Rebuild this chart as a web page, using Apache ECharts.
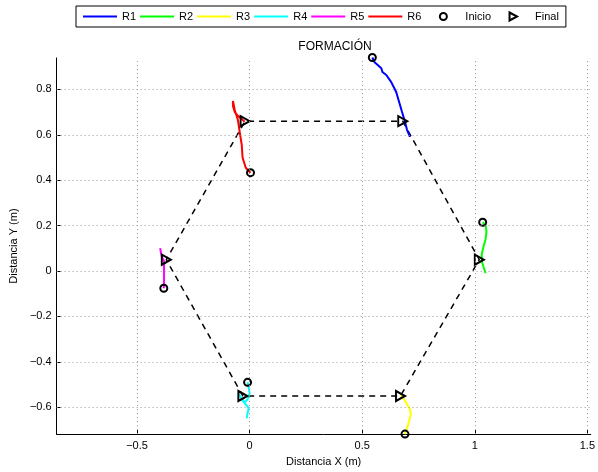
<!DOCTYPE html>
<html><head><meta charset="utf-8">
<script src="https://cdn.jsdelivr.net/npm/echarts@6/dist/echarts.min.js"></script>
<style>html,body{margin:0;padding:0;background:#fff}#c{width:598px;height:472px}</style>
</head><body><div id="c"></div>
<script>
const xTicks = [-0.5, 0, 0.5, 1, 1.5];
const yTicks = [-0.6, -0.4, -0.2, 0, 0.2, 0.4, 0.6, 0.8];
const robotNames = ['R1', 'R2', 'R3', 'R4', 'R5', 'R6'];
const robotColors = ['#0000ff', '#00ff00', '#ffff00', '#00ffff', '#ff00ff', '#ff0000'];

const r1 = [[0.545,0.940],[0.555,0.919],[0.585,0.893],[0.590,0.876],[0.607,0.863],[0.629,0.832],[0.651,0.788],[0.664,0.744],[0.677,0.700],[0.690,0.657],[0.699,0.622],[0.712,0.591]];
const r2 = [[1.035,0.215],[1.048,0.201],[1.052,0.175],[1.048,0.140],[1.039,0.109],[1.031,0.074],[1.031,0.044],[1.039,0.018],[1.048,-0.009]];
const r3 = [[0.690,-0.718],[0.699,-0.692],[0.707,-0.665],[0.716,-0.630],[0.712,-0.609],[0.699,-0.587],[0.686,-0.565],[0.672,-0.547]];
const r4 = [[-0.009,-0.490],[-0.004,-0.512],[0.000,-0.539],[-0.009,-0.565],[-0.022,-0.578],[-0.039,-0.556],[-0.048,-0.539],[-0.035,-0.565],[-0.017,-0.587],[-0.004,-0.604],[-0.009,-0.626],[-0.013,-0.648]];
const r5 = [[-0.381,-0.076],[-0.380,-0.044],[-0.380,0.000],[-0.380,0.044],[-0.389,0.061],[-0.395,0.088],[-0.397,0.101]];
const r6 = [[0.004,0.433],[-0.017,0.455],[-0.031,0.499],[-0.035,0.556],[-0.044,0.613],[-0.052,0.665],[-0.066,0.709],[-0.074,0.749],[-0.079,0.753],[-0.074,0.727],[-0.066,0.700],[-0.052,0.683],[-0.035,0.670],[-0.022,0.657]];

const starts = [[0.545,0.940],[1.035,0.215],[0.690,-0.718],[-0.009,-0.490],[-0.381,-0.076],[0.004,0.433]];
const finals = [[0.68,0.66],[1.02,0.05],[0.67,-0.55],[-0.03,-0.55],[-0.37,0.05],[-0.02,0.66]];

const trajectories = [r1, r2, r3, r4, r5, r6];
const triPath = 'path://M0,0L10,5L0,10Z';
// legend icons: full 34x8 box so they are centred like MATLAB's legend
const legLine = 'path://M0,3L34,3L34,5L0,5Z';
const legCircle = 'path://M0,0M34,8M20.5,4A3.5,3.5 0 1 1 13.5,4A3.5,3.5 0 1 1 20.5,4Z';
const legTri = 'path://M0,0M34,8M13.5,0L21,4L13.5,8Z';
const fmt = v => (v < 0 ? '\u2212' + String(-v) : String(v));

const series = [];
series.push({
  type: 'scatter', data: [[0, 0]], symbolSize: 0, silent: true, z: 0,
  markLine: {
    silent: true, symbol: 'none', label: {show: false},
    lineStyle: {type: [1, 3], color: '#999', width: 1},
    data: xTicks.map(v => ({xAxis: v})).concat(yTicks.map(v => ({yAxis: v})))
  }
});
series.push({
  type: 'line', data: finals.concat([finals[0]]), showSymbol: false, symbol: 'none', z: 2,
  lineStyle: {color: '#000', width: 1.5, type: [6, 5]}, silent: true
});
trajectories.forEach((d, i) => {
  series.push({
    name: robotNames[i], type: 'line', data: d, symbol: 'none', showSymbol: false, z: 3, clip: false,
    color: robotColors[i], lineStyle: {color: robotColors[i], width: 2}
  });
});
series.push({
  name: 'Inicio', type: 'scatter', data: starts, symbol: 'circle', symbolSize: 7, z: 4, clip: false,
  itemStyle: {color: 'rgba(0,0,0,0)', borderColor: '#000', borderWidth: 2, opacity: 1}
});
series.push({
  name: 'Final', type: 'scatter', data: finals, symbol: triPath, symbolSize: [9, 10], z: 4, clip: false,
  itemStyle: {color: 'rgba(0,0,0,0)', borderColor: '#000', borderWidth: 2, opacity: 1}
});

const chart = echarts.init(document.getElementById('c'), null, {renderer: 'canvas'});
chart.setOption({
  animation: false,
  backgroundColor: '#fff',
  textStyle: {fontFamily: 'Liberation Sans, Arial, sans-serif'},
  title: {
    text: 'FORMACIÓN', left: 330, top: 36, textAlign: 'center',
    textStyle: {fontSize: 12, fontWeight: 'normal', color: '#000', fontFamily: 'Liberation Sans, Arial, sans-serif'}
  },
  legend: {
    left: 76, top: 6, padding: [5, 7], itemGap: 4, itemWidth: 34, itemHeight: 8,
    borderColor: '#000', borderWidth: 1, backgroundColor: '#fff',
    textStyle: {fontSize: 11, color: '#000', fontFamily: 'Liberation Sans, Arial, sans-serif'},
    data: robotNames.map((n, i) => ({name: n, icon: legLine, itemStyle: {color: robotColors[i], borderWidth: 0}})).concat([
      {name: 'Inicio', icon: legCircle, itemStyle: {color: 'rgba(0,0,0,0)', borderColor: '#000', borderWidth: 2}},
      {name: 'Final', icon: legTri, itemStyle: {color: 'rgba(0,0,0,0)', borderColor: '#000', borderWidth: 2}}
    ]),
    selectedMode: false
  },
  grid: {left: 52, top: 58, right: 5, bottom: 36, containLabel: false},
  xAxis: {
    type: 'value', min: -0.857, max: 1.515,
    name: 'Distancia X (m)', nameLocation: 'middle', nameGap: 20,
    nameTextStyle: {fontSize: 11, color: '#000'},
    axisLine: {onZero: false, lineStyle: {color: '#000', width: 1}},
    axisTick: {show: true, inside: true, length: 4, customValues: xTicks, lineStyle: {color: '#000'}},
    axisLabel: {show: true, customValues: xTicks, formatter: fmt, fontSize: 11, color: '#000', margin: 6},
    splitLine: {show: false}
  },
  yAxis: {
    type: 'value', min: -0.718, max: 0.938,
    name: 'Distancia Y (m)', nameLocation: 'middle', nameGap: 33,
    nameTextStyle: {fontSize: 11, color: '#000'},
    axisLine: {show: true, onZero: false, lineStyle: {color: '#000', width: 1}},
    axisTick: {show: true, inside: true, length: 4, customValues: yTicks, lineStyle: {color: '#000'}},
    axisLabel: {show: true, customValues: yTicks, formatter: fmt, fontSize: 11, color: '#000', margin: 5},
    splitLine: {show: false}
  },
  series: series
});
</script>
</body></html>
